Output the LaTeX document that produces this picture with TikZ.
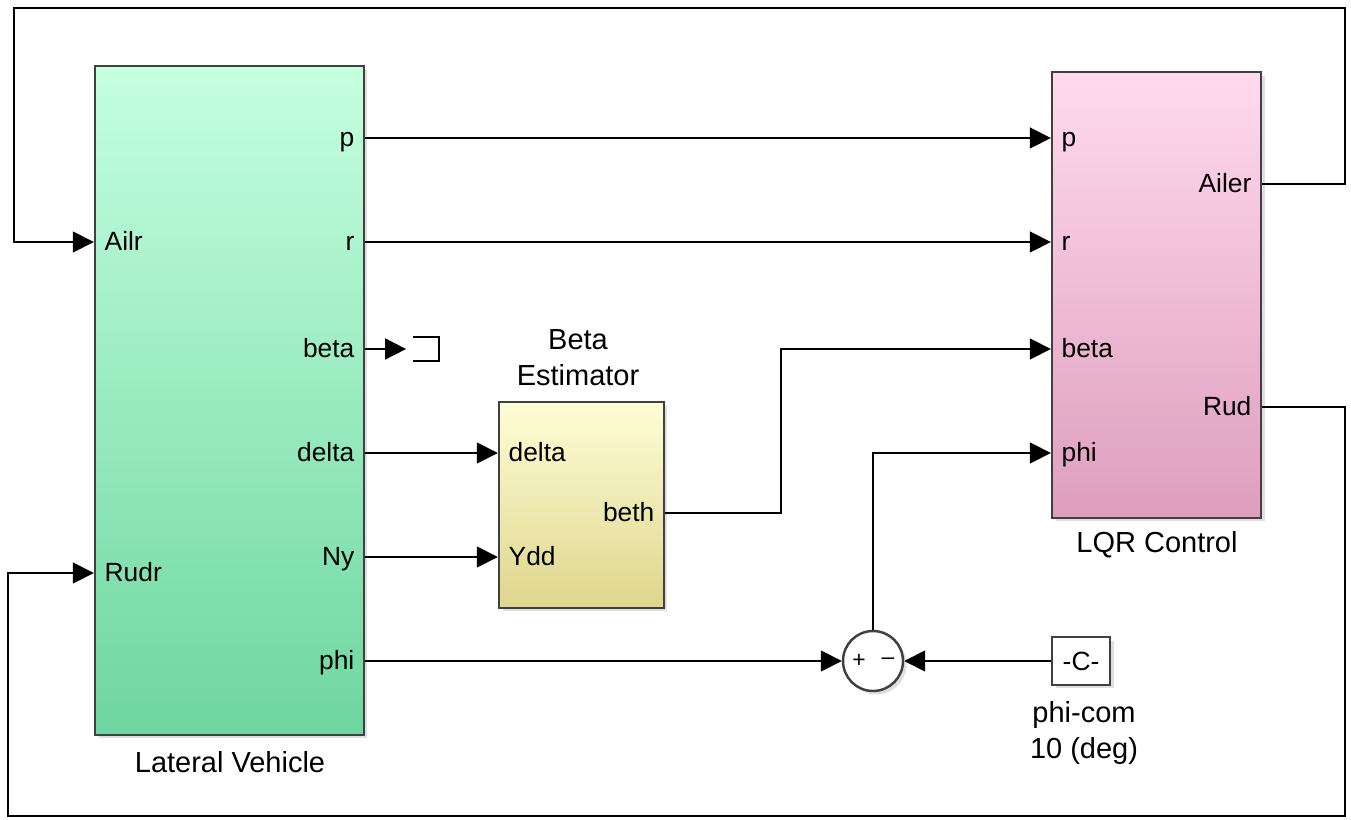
\documentclass[tikz,border=0pt]{standalone}
\usepackage{fontspec}
\setmainfont{Liberation Sans}
\usetikzlibrary{arrows.meta,shadows}
\definecolor{vehtop}{RGB}{197,255,224}
\definecolor{vehbot}{RGB}{110,214,160}
\definecolor{esttop}{RGB}{255,253,215}
\definecolor{estbot}{RGB}{222,214,140}
\definecolor{lqrtop}{RGB}{255,218,236}
\definecolor{lqrbot}{RGB}{222,158,190}

\begin{document}
\begin{tikzpicture}[x=0.02cm, y=-0.02cm, line width=1pt,
  block/.style={draw=black!75, line width=1.4pt, inner sep=0pt,
    drop shadow={shadow xshift=0.07cm, shadow yshift=-0.07cm, opacity=0.25}},
  sig/.style={-{Triangle[length=0.42cm,width=0.42cm]}},
  portl/.style={anchor=mid west, inner sep=0pt, xshift=0.2cm, yshift=-0.08cm, font=\fontsize{15}{18}\selectfont},
  portr/.style={anchor=mid east, inner sep=0pt, xshift=-0.2cm, yshift=-0.08cm, font=\fontsize{15}{18}\selectfont},
  title/.style={inner sep=0pt, align=center, font=\fontsize{16.5}{20.5}\selectfont}]
\useasboundingbox (0,0) rectangle (1351,820);

% blocks
\node[block, top color=vehtop, bottom color=vehbot, minimum width=5.38cm, minimum height=13.38cm] (veh) at (229.5,400.5) {};
\node[title] (vehlbl) at (230,762) {Lateral Vehicle};
\node[block, top color=esttop, bottom color=estbot, minimum width=3.3cm, minimum height=4.12cm] (est) at (581.5,505) {};
\node[title] (estlbl) at (578,358) {Beta\\Estimator};
\node[block, top color=lqrtop, bottom color=lqrbot, minimum width=4.18cm, minimum height=8.92cm] (lqr) at (1156.5,295) {};
\node[title] (lqrlbl) at (1157,545) {LQR Control};
\node[block, fill=white, minimum width=1.16cm, minimum height=0.96cm, font=\fontsize{15}{18}\selectfont] (const) at (1081,661) {-C-};
\node[title] (constlbl) at (1084,733) {phi-com\\10 (deg)};
\node[block, circle, fill=white, minimum size=1.2cm] (sum) at (873,661) {};
\node[inner sep=0pt, font=\fontsize{13}{14}\selectfont] at ([xshift=-0.28cm]sum.center) {+};
\node[inner sep=0pt, font=\fontsize{13}{14}\selectfont] at ([xshift=0.3cm]sum.center) {\textendash};
\node[minimum width=0.48cm, minimum height=0.44cm, inner sep=0pt] (term) at (426,349) {};
\draw (term.north west) -- (term.north east) -- (term.south east) -- (term.south west);

% ports
\foreach \lbl/\y in {p/138, r/242, beta/349, delta/453, Ny/557, phi/661} {
  \coordinate (veh-\lbl) at (veh.east |- 0,\y);
  \node[portr] at (veh-\lbl) {\lbl};
}
\foreach \lbl/\y in {Ailr/242, Rudr/573} {
  \coordinate (veh-\lbl) at (veh.west |- 0,\y);
  \node[portl] at (veh-\lbl) {\lbl};
}
\foreach \lbl/\y in {delta/453, Ydd/557} {
  \coordinate (est-\lbl) at (est.west |- 0,\y);
  \node[portl] at (est-\lbl) {\lbl};
}
\coordinate (est-beth) at (est.east |- 0,513);
\node[portr] at (est-beth) {beth};
\foreach \lbl/\y in {p/138, r/242, beta/349, phi/453} {
  \coordinate (lqr-\lbl) at (lqr.west |- 0,\y);
  \node[portl] at (lqr-\lbl) {\lbl};
}
\foreach \lbl/\y in {Ailer/184, Rud/407} {
  \coordinate (lqr-\lbl) at (lqr.east |- 0,\y);
  \node[portr] at (lqr-\lbl) {\lbl};
}

% signals
\coordinate (topright) at (1345,8);
\coordinate (topleft) at (14,8);
\coordinate (botright) at (1345,816);
\coordinate (botleft) at (8,816);
\draw[sig] (veh-p) -- (lqr-p);
\draw[sig] (veh-r) -- (lqr-r);
\draw[sig] (veh-beta) -- ([xshift=-0.14cm]term.west);
\draw[sig] (veh-delta) -- (est-delta);
\draw[sig] (veh-Ny) -- (est-Ydd);
\draw[sig] (est-beth) -- ++(116,0) |- (lqr-beta);
\draw[sig] (veh-phi) -- (sum.west);
\draw[sig] (const.west) -- (sum.east);
\draw[sig] (sum.north) |- (lqr-phi);
\draw[sig] (lqr-Ailer) -| (topright) -- (topleft) |- (veh-Ailr);
\draw[sig] (lqr-Rud) -| (botright) -- (botleft) |- (veh-Rudr);
\end{tikzpicture}
\end{document}
